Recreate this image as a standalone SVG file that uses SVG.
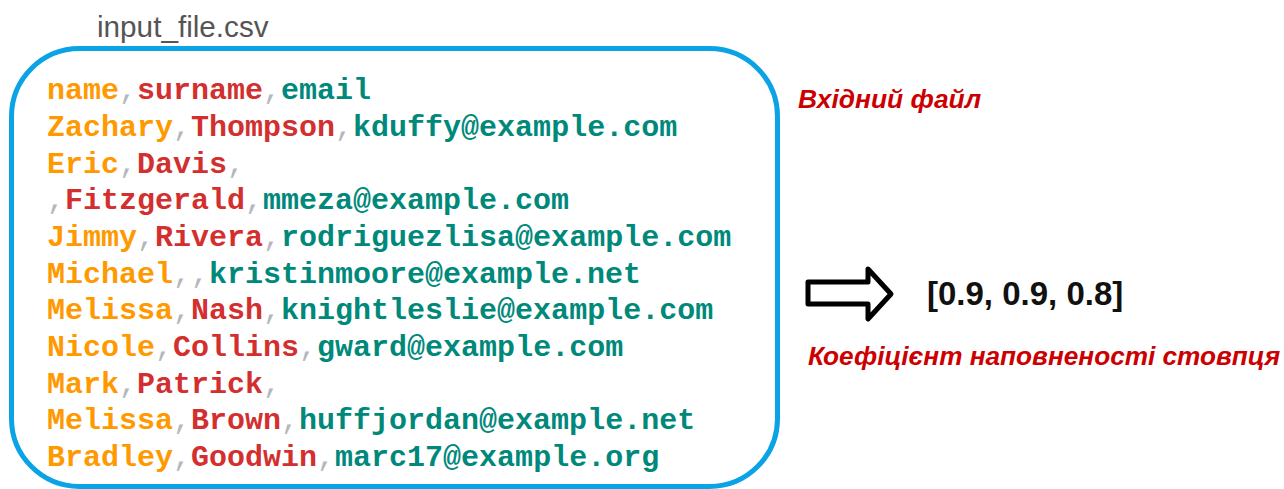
<svg xmlns="http://www.w3.org/2000/svg" width="1284" height="489" viewBox="0 0 1284 489">
  <style>
    .title { font-family: "Liberation Sans", Arial, sans-serif; font-size: 29.7px; fill: #555555; }
    .csv { font-family: "Liberation Mono", "Courier New", monospace; font-size: 30px; font-weight: bold; }
    .c1 { fill: #FF9900; }
    .c2 { fill: #D32F2F; }
    .c3 { fill: #00897B; }
    .sep { fill: #B4B8BC; font-weight: normal; }
    .note { font-family: "Liberation Sans", Arial, sans-serif; font-weight: bold; font-style: italic; fill: #CC0000; }
    .result { font-family: "Liberation Sans", Arial, sans-serif; font-weight: bold; font-size: 33px; fill: #111111; }
  </style>

  <rect width="1284" height="489" fill="#FFFFFF"/>

  <!-- CSV file node -->
  <g id="input-file">
    <text class="title" x="97" y="37">input_file.csv</text>
    <rect x="11.5" y="48.5" width="766" height="438" rx="68" ry="68" fill="none" stroke="#0AA3E6" stroke-width="5"/>
    <g class="csv">
      <text x="47" y="99"><tspan class="c1">name</tspan><tspan class="sep">,</tspan><tspan class="c2">surname</tspan><tspan class="sep">,</tspan><tspan class="c3">email</tspan></text>
      <text x="47" y="136"><tspan class="c1">Zachary</tspan><tspan class="sep">,</tspan><tspan class="c2">Thompson</tspan><tspan class="sep">,</tspan><tspan class="c3">kduffy@example.com</tspan></text>
      <text x="47" y="172.5"><tspan class="c1">Eric</tspan><tspan class="sep">,</tspan><tspan class="c2">Davis</tspan><tspan class="sep">,</tspan></text>
      <text x="47" y="209"><tspan class="sep">,</tspan><tspan class="c2">Fitzgerald</tspan><tspan class="sep">,</tspan><tspan class="c3">mmeza@example.com</tspan></text>
      <text x="47" y="246"><tspan class="c1">Jimmy</tspan><tspan class="sep">,</tspan><tspan class="c2">Rivera</tspan><tspan class="sep">,</tspan><tspan class="c3">rodriguezlisa@example.com</tspan></text>
      <text x="47" y="282.5"><tspan class="c1">Michael</tspan><tspan class="sep">,,</tspan><tspan class="c3">kristinmoore@example.net</tspan></text>
      <text x="47" y="319"><tspan class="c1">Melissa</tspan><tspan class="sep">,</tspan><tspan class="c2">Nash</tspan><tspan class="sep">,</tspan><tspan class="c3">knightleslie@example.com</tspan></text>
      <text x="47" y="356"><tspan class="c1">Nicole</tspan><tspan class="sep">,</tspan><tspan class="c2">Collins</tspan><tspan class="sep">,</tspan><tspan class="c3">gward@example.com</tspan></text>
      <text x="47" y="392.5"><tspan class="c1">Mark</tspan><tspan class="sep">,</tspan><tspan class="c2">Patrick</tspan><tspan class="sep">,</tspan></text>
      <text x="47" y="429"><tspan class="c1">Melissa</tspan><tspan class="sep">,</tspan><tspan class="c2">Brown</tspan><tspan class="sep">,</tspan><tspan class="c3">huffjordan@example.net</tspan></text>
      <text x="47" y="466"><tspan class="c1">Bradley</tspan><tspan class="sep">,</tspan><tspan class="c2">Goodwin</tspan><tspan class="sep">,</tspan><tspan class="c3">marc17@example.org</tspan></text>
    </g>
  </g>

  <!-- label for the file -->
  <g id="file-label">
    <text class="note" x="798" y="108" font-size="26.4">Вхідний файл</text>
  </g>

  <!-- block arrow -->
  <g id="connectors">
    <path d="M808 282 H868 V269 L891 294 L868 319 V304 H808 Z" fill="#FFFFFF" stroke="#000000" stroke-width="5" stroke-linejoin="round"/>
  </g>

  <!-- result node -->
  <g id="result">
    <text class="result" x="927" y="305">[0.9, 0.9, 0.8]</text>
    <text class="note" x="808" y="365" font-size="26.2">Коефіцієнт наповненості стовпця</text>
  </g>
</svg>
